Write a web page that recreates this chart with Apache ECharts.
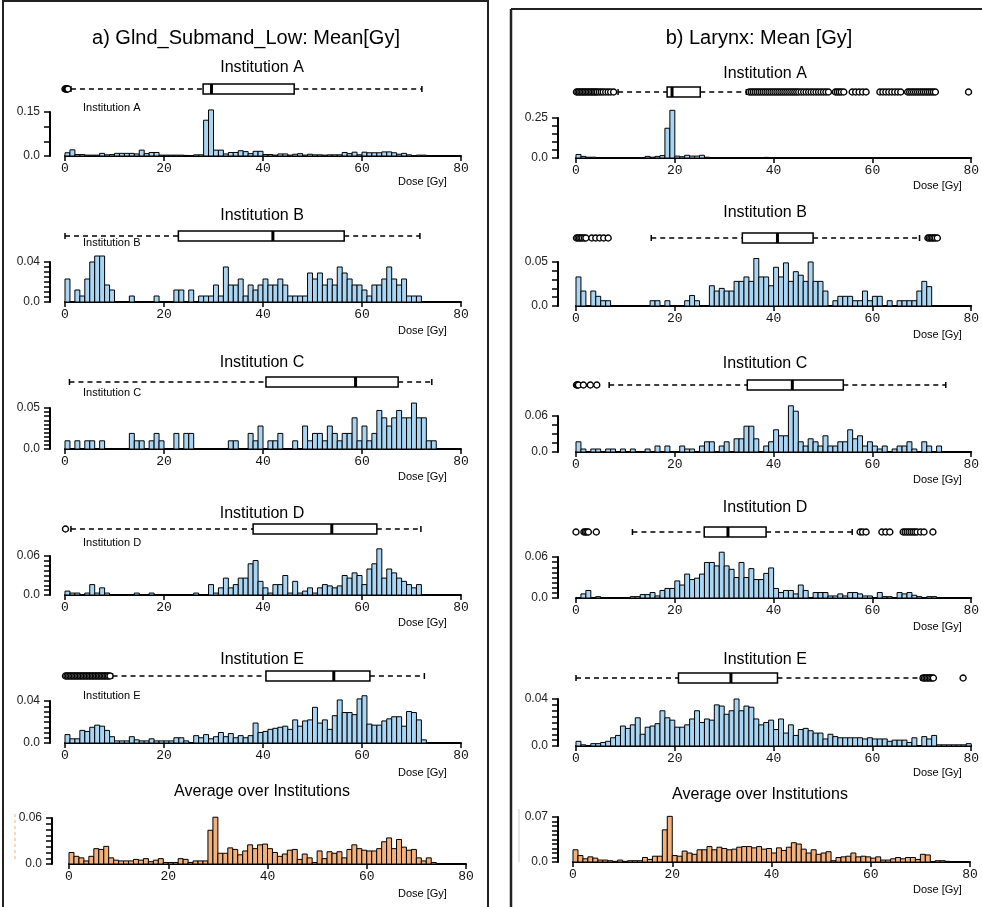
<!DOCTYPE html>
<html><head><meta charset="utf-8">
<script src="https://cdn.jsdelivr.net/npm/echarts@6/dist/echarts.min.js"></script>
<style>html,body{margin:0;padding:0;background:#fff}#c{width:982px;height:907px}</style>
</head><body><div id="c"></div>
<script>
// ---------------- DATA ----------------
const binWidthGy = 1;
const doseTicks = [0, 20, 40, 60, 80];
const institutions = ['Institution A','Institution B','Institution C','Institution D','Institution E'];
const avgTitle = 'Average over Institutions';
const panelTitles = ['a) Glnd_Submand_Low: Mean[Gy]', 'b) Larynx: Mean [Gy]'];
const doseLabel = 'Dose [Gy]';

// Submandibular gland (low) histograms: fraction per 1 Gy bin, starting at 0 Gy
const submandA = [0.011,0.021,0.005,0.005,0.003,0.003,0.003,0.009,0.004,0.005,
 0.009,0.009,0.009,0.009,0.007,0.020,0.008,0.012,0.012,0.003,
 0.003,0.003,0.003,0.003,0.002,0.001,0.004,0.004,0.122,0.157,
 0.020,0.020,0.007,0.012,0.012,0.018,0.015,0.008,0.016,0.016,
 0.005,0.005,0.003,0.007,0.007,0.003,0.006,0.008,0.003,0.006,
 0.004,0.004,0.003,0.004,0.004,0.004,0.012,0.008,0.013,0.004,
 0.013,0.011,0.011,0.011,0.014,0.014,0.011,0.006,0.009,0.004,
 0.001,0.003,0.003];
const submandB = [0.023,0,0.012,0.006,0.023,0.040,0.046,0.046,0.017,0.012,
 0,0,0,0.006,0,0,0,0,0.006,0,
 0,0,0.012,0.012,0,0.012,0,0.006,0.006,0.006,
 0.017,0.006,0.035,0.017,0.017,0.023,0.006,0.017,0.012,0.017,
 0.023,0.017,0.017,0.023,0.017,0.006,0.006,0.006,0.006,0.029,
 0.023,0.029,0.017,0.023,0.017,0.035,0.029,0.023,0.017,0.017,
 0.012,0.006,0.017,0.017,0.023,0.035,0.023,0.017,0.023,0.006,
 0.006,0.006];
const submandC = [0.010,0,0.010,0,0.010,0.010,0,0.010,0,0,
 0,0,0,0.019,0.010,0.010,0,0.010,0.019,0.010,
 0,0,0.019,0,0.019,0.019,0,0,0,0,
 0,0,0,0.010,0.010,0,0,0.019,0.010,0.028,
 0,0.010,0.010,0.019,0,0,0.010,0,0.028,0.010,
 0.019,0.019,0.010,0.028,0.019,0.010,0.019,0.019,0.038,0.010,
 0.028,0.010,0.019,0.047,0.038,0.028,0.038,0.047,0.038,0.038,
 0.056,0.038,0.038,0.010,0.010];
const submandD = [0.006,0.003,0.003,0,0.003,0.016,0.003,0.011,0.003,0,
 0,0,0,0,0.003,0,0,0.003,0,0,
 0,0,0,0,0,0,0.003,0,0,0.016,
 0.003,0.011,0.026,0.011,0.016,0.026,0.026,0.048,0.053,0.021,
 0.011,0.003,0.016,0.016,0.030,0.003,0.021,0.003,0.006,0.011,
 0.003,0.011,0.016,0.014,0.011,0.014,0.030,0.026,0.034,0.030,
 0.016,0.040,0.048,0.071,0.026,0.040,0.034,0.026,0.021,0.016,
 0.011,0.016];
const submandE = [0.008,0.004,0.004,0.012,0.011,0.015,0.017,0.016,0.012,0.006,
 0.002,0.002,0.002,0.006,0.003,0.002,0.002,0.004,0.002,0.002,
 0.002,0.002,0.005,0.005,0.002,0,0.007,0.005,0.008,0.004,
 0.006,0.010,0.006,0.009,0.005,0.007,0.005,0.007,0.019,0.010,
 0.011,0.013,0.014,0.015,0.016,0.013,0.022,0.016,0.021,0.022,
 0.034,0.019,0.022,0.013,0.026,0.041,0.029,0.029,0.027,0.042,
 0.045,0.018,0.017,0.017,0.021,0.023,0.025,0.025,0.016,0.030,
 0.029,0.022,0.003];
const submandAvg = [0.015,0.010,0.008,0.004,0.010,0.020,0.019,0.023,0.008,0.005,
 0.004,0.004,0.004,0.006,0.005,0.007,0.003,0.005,0.007,0.002,
 0.002,0.002,0.007,0.006,0.002,0.004,0.004,0.004,0.044,0.061,
 0.014,0.014,0.021,0.019,0.012,0.017,0.025,0.020,0.025,0.026,
 0.020,0.015,0.010,0.013,0.018,0.019,0.006,0.013,0.008,0.002,
 0.017,0.007,0.016,0.014,0.016,0.008,0.019,0.025,0.020,0.018,
 0.017,0.017,0.020,0.029,0.034,0.020,0.032,0.022,0.018,0.019,
 0.008,0.004,0.008,0.002];

// Larynx histograms
const larynxA = [0.022,0.010,0.005,0.005,0.003,0.002,0.002,0.002,0.002,0.002,
 0.002,0.002,0.002,0.002,0.010,0.005,0.010,0.015,0.186,0.298,
 0.012,0.008,0.017,0.012,0.012,0.017,0.005,0.003,0.002,0.002,
 0.002,0.002,0.002,0.002,0.002,0.002,0.002,0.002,0.004,0.002,
 0.002,0.002,0.002,0.002,0.002,0.002,0.002,0.002,0.002,0.002,
 0.002,0.002,0.002,0.002,0.002,0.002,0.002,0.002,0.002,0.002,
 0.002,0.002,0.002,0.002,0.002,0.002,0.002,0.002,0.002,0.002,
 0.002,0.002,0.002];
const larynxB = [0.033,0.017,0,0.017,0.011,0.006,0.006,0,0,0,
 0,0,0,0,0,0.006,0.006,0,0.006,0,
 0,0,0.006,0.012,0.006,0,0,0.023,0.017,0.020,
 0.017,0.017,0.028,0.028,0.033,0.028,0.054,0.033,0.033,0.023,
 0.044,0.033,0.049,0.028,0.039,0.035,0.028,0.050,0.028,0.028,
 0.017,0,0.006,0.011,0.011,0.011,0.006,0.006,0.017,0.006,
 0.011,0.011,0,0.006,0,0.006,0.006,0.006,0.006,0.017,
 0.028,0.022];
const larynxC = [0.017,0.005,0,0.005,0.005,0,0.005,0.005,0,0.005,
 0,0.005,0,0,0.005,0,0.010,0,0.010,0,
 0,0.010,0.005,0.005,0,0.010,0.017,0.017,0,0.010,
 0.017,0,0.022,0.022,0.043,0.043,0.022,0,0.010,0.017,
 0.037,0.027,0.027,0.077,0.068,0.017,0.010,0.022,0.017,0.010,
 0.027,0.010,0.010,0.017,0.017,0.037,0.022,0.027,0.010,0.017,
 0.010,0.005,0.010,0,0.005,0.010,0.010,0.017,0.005,0,
 0.017,0.010,0,0.010];
const larynxD = [0,0.006,0.011,0,0.002,0,0,0,0,0,
 0,0.002,0.002,0.005,0.005,0.008,0.003,0.011,0.014,0.014,
 0.025,0.019,0.035,0.027,0.029,0.035,0.052,0.052,0.047,0.067,
 0.047,0.042,0.030,0.052,0.030,0.043,0.027,0.027,0.036,0.044,
 0.014,0.008,0.011,0.011,0.006,0.019,0.011,0,0.008,0.008,
 0.008,0.003,0.003,0.006,0.003,0.008,0.008,0.006,0.003,0.003,
 0,0.008,0.002,0.002,0,0.008,0.006,0.008,0.004,0.002,
 0,0.002,0.002];
const larynxE = [0.004,0.001,0,0.002,0.002,0.003,0.004,0.007,0.009,0.017,
 0.015,0.018,0.024,0.010,0.016,0.017,0.019,0.030,0.024,0.022,
 0.016,0.016,0.018,0.023,0.030,0.020,0.023,0.022,0.035,0.034,
 0.027,0.030,0.040,0.030,0.034,0.033,0.023,0.018,0.020,0.022,
 0.014,0.023,0.011,0.018,0.009,0.014,0.015,0.013,0.011,0.011,
 0.006,0.010,0.008,0.007,0.007,0.007,0.007,0.007,0.006,0.007,
 0.006,0.006,0.006,0.004,0.005,0.005,0.005,0.003,0.007,0,
 0.008,0.006,0.009,0.001,0.001,0.001,0.001,0.001,0.001,0.002];
const larynxAvg = [0.019,0.010,0.005,0.008,0.006,0.003,0.003,0.002,0.001,0.003,
 0.001,0.002,0.002,0.002,0.007,0.004,0.009,0.009,0.050,0.071,
 0.010,0.009,0.017,0.014,0.012,0.019,0.019,0.024,0.019,0.023,
 0.021,0.019,0.020,0.023,0.024,0.024,0.022,0.024,0.020,0.021,
 0.014,0.022,0.018,0.023,0.030,0.028,0.020,0.014,0.019,0.012,
 0.014,0.016,0.002,0.007,0.008,0.009,0.014,0.008,0.009,0.008,
 0.006,0.008,0.003,0.003,0.005,0.007,0.005,0.007,0.007,0.004,
 0.012,0.011,0,0.002,0.002,0.001];

// Box plot stats [lower whisker, Q1, median, Q3, upper whisker] in Gy
const submandBoxA = [1.2, 27.9, 29.6, 46.3, 72.1];
const submandBoxB = [0.0, 22.9, 42.0, 56.4, 71.7];
const submandBoxC = [0.9, 40.6, 58.7, 67.3, 74.1];
const submandBoxD = [1.2, 38.0, 53.9, 63.0, 71.9];
const submandBoxE = [9.6, 40.6, 54.3, 61.6, 72.6];
const larynxBoxA = [8.5, 18.4, 19.4, 25.1, 34.4];
const larynxBoxB = [15.2, 33.6, 40.7, 47.9, 69.4];
const larynxBoxC = [6.7, 34.6, 43.7, 54.0, 74.7];
const larynxBoxD = [11.4, 25.9, 30.7, 38.4, 55.8];
const larynxBoxE = [0.0, 20.7, 31.3, 40.7, 69.7];

// Outliers (Gy)
const submandOutA = [0.0, 0.15, 0.3, 0.45, 0.6];
const submandOutB = [];
const submandOutC = [];
const submandOutD = [0.1];
const submandOutE = [0.1,0.4,0.7,1.0,1.3,1.6,1.9,2.2,2.5,2.8,3.1,3.4,3.7,4.0,4.3,4.6,4.9,5.2,5.5,5.8,6.1,6.4,6.7,7.0,7.3,7.6,7.9,8.2,8.5,8.8,9.1];
const larynxOutA = [0.1,0.4,0.7,1.0,1.3,1.6,1.9,2.2,2.5,2.8,3.1,3.4,3.7,4.0,4.3,4.7,5.1,5.5,6.0,6.5,7.0,7.6,
 35.0,35.4,35.8,36.2,36.6,37.0,37.4,37.8,38.2,38.6,39.0,39.4,39.8,40.2,40.6,41.0,41.4,41.8,42.2,42.6,43.0,43.4,43.8,44.2,44.6,45.0,45.5,46.0,46.5,47.0,47.5,48.0,48.5,49.0,49.5,50.0,50.5,51.0,
 52.4,52.8,53.2,53.6,54.1,55.8,56.5,57.2,57.9,58.6,61.4,62.0,62.6,63.2,63.8,64.4,65.0,65.6,
 67.0,67.4,67.8,68.2,68.6,69.0,69.4,69.8,70.2,70.6,71.0,71.4,71.8,72.2,72.6,79.3];
const larynxOutB = [0.1,0.4,0.7,1.0,1.3,1.7,2.0,3.2,4.0,4.8,5.6,6.5,71.1,71.4,71.7,72.0,72.3,72.6,73.0];
const larynxOutC = [0.1,0.3,0.5,1.5,2.9,4.2];
const larynxOutD = [0.0,1.6,1.9,2.2,2.5,4.1,57.4,57.9,58.6,61.8,62.6,63.4,66.1,66.5,66.9,67.3,67.7,68.1,68.5,68.9,69.6,70.3,72.1];
const larynxOutE = [70.1,70.4,70.7,71.0,71.3,71.6,71.9,72.2,78.2];

// y-axis: [top value, tick step, top label]
const yScales = {
  submandA:[0.15,0.05,'0.15'], submandB:[0.04,0.005,'0.04'], submandC:[0.05,0.005,'0.05'],
  submandD:[0.06,0.0075,'0.06'], submandE:[0.04,0.005,'0.04'], submandAvg:[0.06,0.0075,'0.06'],
  larynxA:[0.25,0.05,'0.25'], larynxB:[0.05,0.01,'0.05'], larynxC:[0.06,0.015,'0.06'],
  larynxD:[0.06,0.0075,'0.06'], larynxE:[0.04,0.005,'0.04'], larynxAvg:[0.07,0.007,'0.07']
};

// ---------------- LAYOUT ----------------
const BLUE = '#a9d5f3', ORANGE = '#f1b07c';
const L = {left:65, width:396, yOff:15};
const LA = {left:69, width:397, yOff:17};
const R = {left:576, width:396, yOff:18};
const RA = {left:573, width:397, yOff:15};

const grids=[], xAxes=[], yAxes=[], series=[], graphics=[];

function fmtY(top, lbl){
  return function(v){
    if (Math.abs(v) < 1e-9) return '0.0';
    if (Math.abs(v - top) < 1e-9) return lbl;
    return '';
  };
}

function addHist(pos, top, height, values, sc, color){
  const gi = grids.length;
  grids.push({left:pos.left, top:top, width:pos.width, height:height});
  xAxes.push({gridIndex:gi, type:'value', min:doseTicks[0], max:doseTicks[doseTicks.length-1],
    interval:doseTicks[1]-doseTicks[0],
    axisLine:{show:true, onZero:false, lineStyle:{color:'#000', width:2}},
    axisTick:{show:true, length:5, lineStyle:{color:'#000', width:1.5}},
    axisLabel:{fontFamily:'Liberation Mono', fontSize:13, color:'#111', margin:6},
    splitLine:{show:false}});
  yAxes.push({gridIndex:gi, type:'value', min:0, max:sc[0], interval:sc[1], offset:pos.yOff,
    axisLine:{show:true, onZero:false, lineStyle:{color:'#000', width:2}},
    axisTick:{show:true, length:6, lineStyle:{color:'#000', width:1.5}},
    axisLabel:{formatter:fmtY(sc[0], sc[2]), fontFamily:'Liberation Sans', fontSize:12, color:'#222', margin:10},
    splitLine:{show:false}});
  const data = [];
  values.forEach(function(v,i){ if (v > 0) data.push([i*binWidthGy, v]); });
  series.push({type:'custom', xAxisIndex:gi, yAxisIndex:gi, data:data, encode:{x:0, y:1}, silent:true, clip:false,
    renderItem:function(p, api){
      const x0 = api.value(0), v = api.value(1);
      const a = api.coord([x0, 0]), b = api.coord([x0 + binWidthGy, v]);
      return {type:'rect', shape:{x:a[0], y:b[1], width:b[0]-a[0], height:a[1]-b[1]},
        style:{fill:color, stroke:'#000', lineWidth:1}};
    }});
}

function addBox(pos, cy, stats, outliers){
  const gi = grids.length;
  grids.push({left:pos.left, top:cy-10, width:pos.width, height:20});
  xAxes.push({gridIndex:gi, type:'value', min:0, max:80, show:false});
  yAxes.push({gridIndex:gi, type:'category', data:['box'], show:false});
  series.push({type:'custom', xAxisIndex:gi, yAxisIndex:gi, data:[stats.concat([0])],
    encode:{x:[0,1,2,3,4], y:5}, silent:true, z:2,
    renderItem:function(p, api){
      const c = [0,1,2,3,4].map(function(k){ return api.coord([api.value(k), api.value(5)]); });
      const y = c[0][1], h = 10;
      const ln = {stroke:'#000', lineWidth:1.5};
      const dash = {stroke:'#000', lineWidth:1.5, lineDash:[5,4]};
      return {type:'group', children:[
        {type:'line', shape:{x1:c[0][0], y1:y, x2:c[1][0], y2:y}, style:dash},
        {type:'line', shape:{x1:c[3][0], y1:y, x2:c[4][0], y2:y}, style:dash},
        {type:'line', shape:{x1:c[0][0], y1:y-3, x2:c[0][0], y2:y+3}, style:ln},
        {type:'line', shape:{x1:c[4][0], y1:y-3, x2:c[4][0], y2:y+3}, style:ln},
        {type:'rect', shape:{x:c[1][0], y:y-h/2, width:c[3][0]-c[1][0], height:h}, style:{fill:'#fff', stroke:'#000', lineWidth:1.5}},
        {type:'line', shape:{x1:c[2][0], y1:y-h/2, x2:c[2][0], y2:y+h/2}, style:{stroke:'#000', lineWidth:3}}
      ]};
    }});
  if (outliers.length) {
    series.push({type:'scatter', xAxisIndex:gi, yAxisIndex:gi, data:outliers.map(function(v){return [v,0];}),
      symbol:'circle', symbolSize:6, silent:true, z:3,
      itemStyle:{color:'#fff', borderColor:'#000', borderWidth:1.4, opacity:1}});
  }
}

function txt(x, y, s, size, align){
  graphics.push({type:'text', x:x, y:y, silent:true, z:10,
    style:{text:s, fontSize:size, fontFamily:'Liberation Sans', fill:'#000',
      align:align||'center', verticalAlign:'middle', textAlign:align||'center', textVerticalAlign:'middle'}});
}
function line(x1,y1,x2,y2,color,w,dash){
  graphics.push({type:'line', silent:true, z:1, shape:{x1:x1,y1:y1,x2:x2,y2:y2},
    style:{stroke:color, lineWidth:w, lineDash:dash||null}});
}

// Left panel
addBox(L, 89, submandBoxA, submandOutA);  addHist(L, 112, 44, submandA, yScales.submandA, BLUE);
addBox(L, 236, submandBoxB, submandOutB); addHist(L, 262, 40, submandB, yScales.submandB, BLUE);
addBox(L, 382, submandBoxC, submandOutC); addHist(L, 408, 41, submandC, yScales.submandC, BLUE);
addBox(L, 529, submandBoxD, submandOutD); addHist(L, 556, 39, submandD, yScales.submandD, BLUE);
addBox(L, 676, submandBoxE, submandOutE); addHist(L, 701, 42, submandE, yScales.submandE, BLUE);
addHist(LA, 818, 46, submandAvg, yScales.submandAvg, ORANGE);
// Right panel
addBox(R, 92, larynxBoxA, larynxOutA);  addHist(R, 118, 40, larynxA, yScales.larynxA, BLUE);
addBox(R, 238, larynxBoxB, larynxOutB); addHist(R, 262, 44, larynxB, yScales.larynxB, BLUE);
addBox(R, 385, larynxBoxC, larynxOutC); addHist(R, 416, 36, larynxC, yScales.larynxC, BLUE);
addBox(R, 532, larynxBoxD, larynxOutD); addHist(R, 557, 41, larynxD, yScales.larynxD, BLUE);
addBox(R, 678, larynxBoxE, larynxOutE); addHist(R, 699, 47, larynxE, yScales.larynxE, BLUE);
addHist(RA, 817, 45, larynxAvg, yScales.larynxAvg, ORANGE);

// Texts
txt(246, 38, panelTitles[0], 20);
txt(759, 38, panelTitles[1], 20);
const lTitleY = [68, 216, 363, 514, 660], rTitleY = [74, 213, 364, 508, 660];
const innerY = [108, 243, 393, 543, 696];
const lDoseY = [182, 331, 477, 623, 773], rDoseY = [186, 335, 480, 627, 773];
institutions.forEach(function(name, k){
  txt(262, lTitleY[k], name, 16);
  txt(765, rTitleY[k], name, 16);
  txt(83, innerY[k], name, 11, 'left');
  txt(398, lDoseY[k], doseLabel, 11, 'left');
  txt(913, rDoseY[k], doseLabel, 11, 'left');
});
txt(262, 792, avgTitle, 16);
txt(760, 795, avgTitle, 16);
txt(398, 894, doseLabel, 11, 'left');
txt(913, 890, doseLabel, 11, 'left');

// Panel frames
line(3, 0, 3, 907, '#222', 2);
line(3, 1, 488, 1, '#222', 2);
line(488, 0, 488, 907, '#222', 2);
line(511, 9, 511, 907, '#222', 2.5);
line(511, 9, 982, 9, '#222', 2);
line(15, 814, 15, 862, '#f1b07c', 1, [3,3]);
line(519, 809, 519, 862, '#cccccc', 1);

const chart = echarts.init(document.getElementById('c'), null, {renderer:'canvas'});
chart.setOption({
  animation:false, backgroundColor:'#fff',
  grid:grids, xAxis:xAxes, yAxis:yAxes, series:series, graphic:graphics
});
</script></body></html>
